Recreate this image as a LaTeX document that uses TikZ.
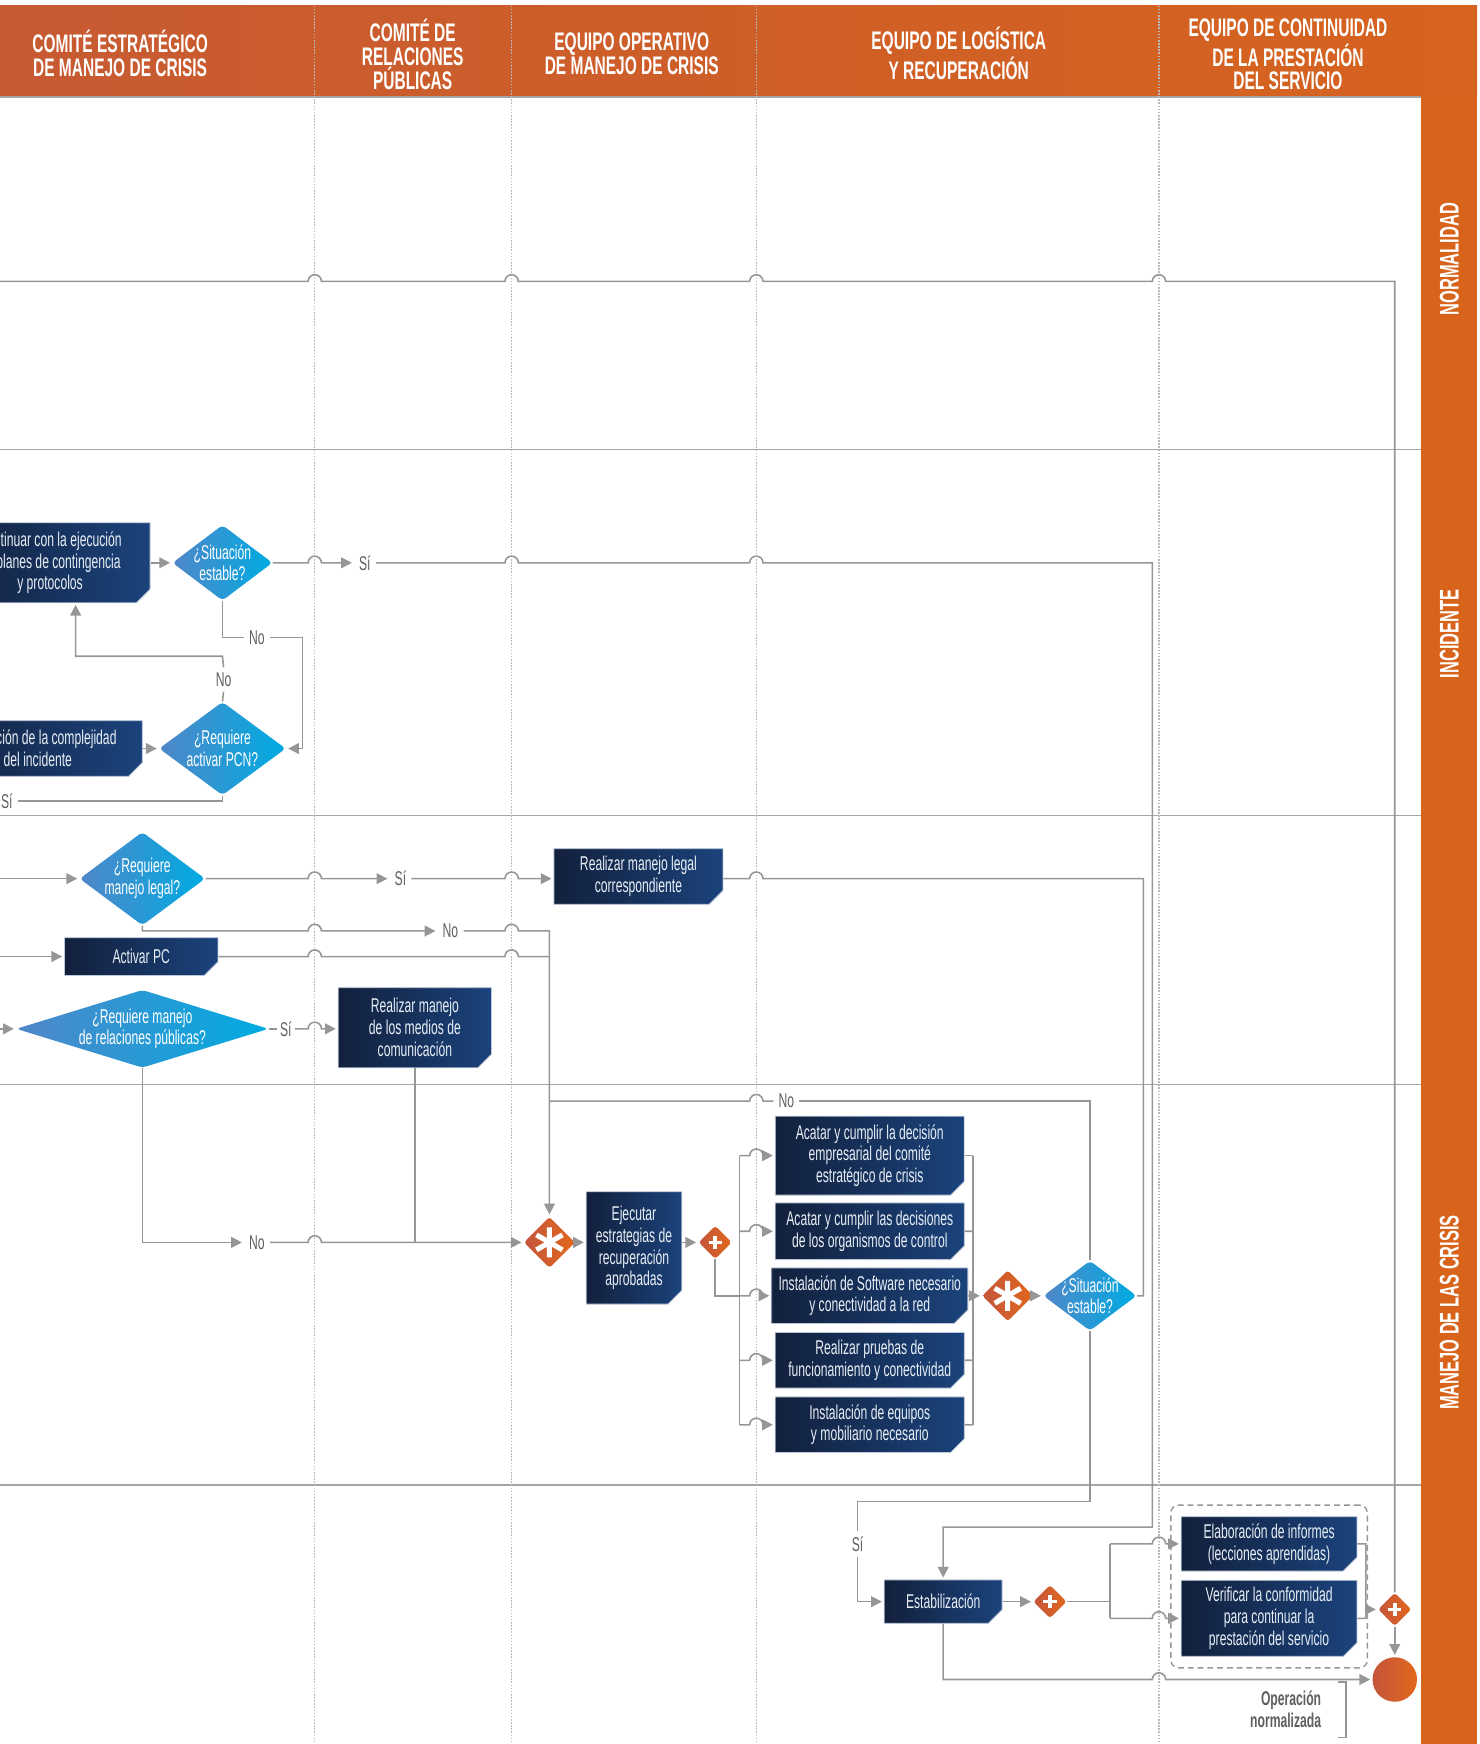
\documentclass[tikz,border=0pt]{standalone}
\usepackage{fontspec}
\setmainfont{Liberation Sans}[FakeStretch=0.61]
\usepackage{tikz}
\usetikzlibrary{arrows.meta, positioning, fit, shapes.geometric, shapes.misc}
\definecolor{hdrL}{RGB}{199,90,50}
\definecolor{hdrR}{RGB}{214,99,30}
\definecolor{sideor}{RGB}{216,100,28}
\definecolor{boxL}{RGB}{18,32,60}
\definecolor{boxR}{RGB}{27,67,124}
\definecolor{decL}{RGB}{80,135,200}
\definecolor{decR}{RGB}{0,171,226}
\definecolor{gwL}{RGB}{196,85,60}
\definecolor{gwR}{RGB}{226,103,28}
\definecolor{lineg}{RGB}{150,150,150}
\definecolor{laneg}{RGB}{165,165,165}
\definecolor{dotg}{RGB}{185,185,185}
\definecolor{labg}{RGB}{95,95,95}
\definecolor{boxtxt}{RGB}{232,238,245}
\newcommand*{\hopr}[2]{-- ({#1-6},#2) arc[start angle=180,end angle=0,radius=0.12cm]}
\newcommand*{\hopl}[2]{-- ({#1+6},#2) arc[start angle=0,end angle=180,radius=0.12cm]}
\newcommand*{\boxfont}{\fontsize{10.2}{11.2}\selectfont}

\begin{document}
\begin{tikzpicture}[
        x=0.02cm, y=-0.02cm, >={Triangle[length=5.5pt,width=5.5pt]},
        flow/.style={draw=lineg, line width=0.8pt},
        arr/.style={flow, ->, shorten >=1pt},
        task/.style={chamfered rectangle, chamfered rectangle corners=south east,
          chamfered rectangle xsep=3.5pt, chamfered rectangle ysep=3.5pt,
          left color=boxL, right color=boxR, draw=white!70!boxR, line width=0.4pt,
          text=boxtxt, font=\boxfont, align=center, inner sep=0pt},
        decision/.style={diamond, left color=decL, right color=decR, inner sep=0pt,
          rounded corners=2pt, label={[text=white, font=\boxfont, align=center]center:#1}},
        gw/.style={diamond, left color=gwL, right color=gwR, inner sep=0pt,
          minimum size=#1, rounded corners=1.5pt},
        cgw/.style={gw=0.92cm, path picture={\draw[white, line width=2.6pt,
          shift={(path picture bounding box.center)}] (90:0.27cm) -- (270:0.27cm)
          (30:0.27cm) -- (210:0.27cm) (150:0.27cm) -- (330:0.27cm);}},
        pgw/.style={gw=0.6cm, path picture={\draw[white, line width=1.8pt,
          shift={(path picture bounding box.center)}] (-0.12cm,0) -- (0.12cm,0)
          (0,-0.12cm) -- (0,0.12cm);}},
        lbl/.style={text=labg, font=\boxfont, inner sep=2.5pt},
        hdr/.style={text=white, font=\fontsize{13}{12.2}\selectfont\bfseries, align=center},
        lanelab/.style={text=white, font=\fontsize{13.8}{14}\selectfont\bfseries, rotate=90},
        ]

        \useasboundingbox (0,0) rectangle (1330,1568);
        \clip (0,0) rectangle (1330,1568);

        \shade[left color=hdrL, right color=hdrR] (0,5) rectangle (1328,87);
        \fill[sideor] (1278,87) rectangle (1328,1568);
        \draw[laneg, line width=1pt] (0,87) -- (1278,87);
        \foreach \y in {404,733,975,1335}
          \draw[laneg, line width=0.8pt] (0,\y) -- (1278,\y);
        \foreach \x in {283,460,680,1042}
          \draw[dotg, line width=0.6pt, dash pattern=on 0.8pt off 0.8pt] (\x,5) -- (\x,1568);

        \node[hdr] (h1) at (108,48) {COMITÉ ESTRATÉGICO\\DE MANEJO DE CRISIS};
        \node[hdr] (h2) at (371,49) {COMITÉ DE\\RELACIONES\\PÚBLICAS};
        \node[hdr] (h3) at (568,48) {EQUIPO OPERATIVO\\DE MANEJO DE CRISIS};
        \node[hdr] (h4) at (862,48) {EQUIPO DE LOGÍSTICA\\Y RECUPERACIÓN};
        \node[hdr] (h5) at (1158,49) {EQUIPO DE CONTINUIDAD\\DE LA PRESTACIÓN\\DEL SERVICIO};
        \node[lanelab] (l1) at (1303,233) {NORMALIDAD};
        \node[lanelab] (l2) at (1303,570) {INCIDENTE};
        \node[lanelab] (l3) at (1303,1180) {MANEJO DE LAS CRISIS};

        \coordinate (intop) at (0,253);
        \coordinate (inlegal) at (0,790);
        \coordinate (inpc) at (0,860);
        \coordinate (inrrpp) at (0,925);

        \node[task, minimum width=3.6cm, minimum height=1.44cm] (cont) at (45,506)
          {Continuar con la ejecución\\de planes de contingencia\\y protocolos};
        \node[decision={¿Situación\\estable?}, minimum width=1.8cm, minimum height=1.36cm] (sit1) at (200,506) {};
        \node[task, minimum width=3.76cm, minimum height=1cm] (eval) at (34,673)
          {Evaluación de la complejidad\\del incidente};
        \node[decision={¿Requiere\\activar PCN?}, minimum width=2.28cm, minimum height=1.68cm] (pcn) at (200,673) {};

        \node[decision={¿Requiere\\manejo legal?}, minimum width=2.26cm, minimum height=1.68cm] (legalq) at (128,790) {};
        \node[task, minimum width=3.04cm, minimum height=1cm] (legal) at (574,788)
          {Realizar manejo legal\\correspondiente};
        \node[task, minimum width=2.76cm, minimum height=0.68cm] (actpc) at (127,860) {Activar PC};
        \node[decision={¿Requiere manejo\\de relaciones públicas?}, minimum width=4.54cm, minimum height=1.4cm] (rrpp) at (128,925) {};
        \node[task, minimum width=2.76cm, minimum height=1.44cm] (medios) at (373,924)
          {Realizar manejo\\de los medios de\\comunicación};

        \node[cgw] (ast1) at (494,1117) {};
        \node[task, minimum width=1.72cm, minimum height=2.02cm] (ejec) at (570,1122)
          {Ejecutar\\estrategias de\\recuperación\\aprobadas};
        \node[pgw] (plus1) at (643,1117) {};

        \node[task, minimum width=3.4cm, minimum height=1.42cm] (t1) at (782,1039)
          {Acatar y cumplir la decisión\\empresarial del comité\\estratégico de crisis};
        \node[task, minimum width=3.4cm, minimum height=1.02cm, on grid, below=1.36cm of t1] (t2)
          {Acatar y cumplir las decisiones\\de los organismos de control};
        \node[task, minimum width=3.4cm, minimum height=1cm, on grid, below=1.16cm of t2] (t3)
          {Instalación de Software necesario\\y conectividad a la red};
        \node[task, minimum width=3.4cm, minimum height=1cm, on grid, below=1.16cm of t3] (t4)
          {Realizar pruebas de\\funcionamiento y conectividad};
        \node[task, minimum width=3.4cm, minimum height=1cm, on grid, below=1.16cm of t4] (t5)
          {Instalación de equipos\\y mobiliario necesario};
        \node[cgw] (ast2) at (906,1165) {};
        \node[decision={¿Situación\\estable?}, minimum width=1.68cm, minimum height=1.26cm] (sit2) at (980,1165) {};

        \node[task, minimum width=2.12cm, minimum height=0.78cm] (estab) at (848,1440) {Estabilización};
        \node[pgw] (plus2) at (944,1440) {};
        \node[task, minimum width=3.16cm, minimum height=0.96cm] (inf) at (1141,1388)
          {Elaboración de informes\\(lecciones aprendidas)};
        \node[task, minimum width=3.16cm, minimum height=1.2cm, on grid, below=1.34cm of inf] (ver)
          {Verificar la conformidad\\para continuar la\\prestación del servicio};
        \node[draw=lineg, line width=0.7pt, dash pattern=on 3pt off 2pt, rounded corners=4pt,
          inner xsep=0.18cm, inner ysep=0.2cm, fit=(inf)(ver)] (grp) {};
        \node[pgw] (plus3) at (1254,1447) {};
        \node[circle, left color=gwL, right color=gwR, inner sep=0pt, minimum size=0.8cm] (endc) at (1254,1510) {};
        \node[text=labg, font=\boxfont\bfseries, align=right, anchor=east] (oplab) at (1194,1537)
          {Operación\\normalizada};
        \draw[lineg, line width=0.8pt] (1203,1512) -- (1210,1512) -- (1210,1562) -- (1203,1562);

        \node[lbl] (si1) at (328,506) {Sí};
        \node[lbl] (no1) at (231,573) {No};
        \node[lbl] (no2) at (201,611) {No};
        \node[lbl, anchor=east] (si2) at (16,720) {Sí};
        \node[lbl] (si3) at (360,790) {Sí};
        \node[lbl] (no3) at (405,837) {No};
        \node[lbl, inner sep=1.5pt] (si4) at (257,925) {Sí};
        \node[lbl] (no4) at (231,1117) {No};
        \node[lbl] (no5) at (707,990) {No};
        \node[lbl] (si5) at (771,1388) {Sí};

        \draw[flow] (intop) \hopr{283}{253} \hopr{460}{253} \hopr{680}{253} \hopr{1042}{253}
          -- (1254,253) -- (plus3.north);

        \draw[arr] (cont.east) -- (sit1.west);
        \draw[arr] (sit1.east) \hopr{283}{506} -- (si1.west);
        \draw[arr] (si1.east) \hopr{460}{506} \hopr{680}{506} -- (1036,506) -- (1036,1373)
          -- (848,1373) -- (estab.north);
        \draw[flow] (sit1.south) |- (no1.west);
        \draw[arr] (no1.east) -- (272,573) -- (272,673) -- (pcn.east);
        \draw[arr] (eval.east) -- (pcn.west);
        \draw[flow] (pcn.north) -- (no2.south);
        \draw[arr] (no2.north) -- (200,590) -- (68,590) -- (68,542);
        \draw[flow] (pcn.south) |- (si2.east);

        \draw[arr] (inlegal) -- (legalq.west);
        \draw[arr] (legalq.east) \hopr{283}{790} -- (si3.west);
        \draw[arr] (si3.east) \hopr{460}{790} -- (legal.west |- si3);
        \draw[arr] (legalq.south) -- (128,837) \hopr{283}{837} -- (no3.west);
        \draw[arr] (no3.east) \hopr{460}{837} -- (494,837) -- (ast1.north);
        \draw[arr] (inpc) -- (actpc.west);
        \draw[flow] (actpc.east) \hopr{283}{860} \hopr{460}{860} -- (494,860);
        \draw[arr] (inrrpp) -- (rrpp.west);
        \draw[flow] (rrpp.east) -- (si4.west);
        \draw[arr] (si4.east) \hopr{283}{925} -- (medios.west |- si4);
        \draw[arr] (rrpp.south) |- (no4.west);
        \draw[arr] (no4.east) \hopr{283}{1117} -- (ast1.west);
        \draw[flow] (medios.south) -- (373,1117);
        \draw[flow] (sit2.north) |- (no5.east);
        \draw[flow] (no5.west) \hopl{680}{990} -- (494,990);

        \draw[arr] (ast1.east) -- (ast1.east -| ejec.west);
        \draw[arr] (ejec.east |- plus1.west) -- (plus1.west);
        \draw[flow] (plus1.south) |- (665,1165);
        \draw[flow] (665,1039) -- (665,1281);
        \foreach \t/\y in {t1/1039,t2/1107,t3/1165,t4/1223,t5/1281} {
          \draw[arr] (665,\y) \hopr{680}{\y} -- (\t.west);
          \draw[flow] (\t.east) -- (875,\y);
        }
        \draw[flow] (875,1039) -- (875,1281);
        \draw[arr] (875,1165) -- (ast2.west);
        \draw[arr] (ast2.east) -- (sit2.west);
        \draw[flow] (legal.east |- si3) \hopr{680}{790} -- (1028,790) -- (1028,1165) -- (sit2.east);
        \draw[flow] (sit2.south) -- (980,1350) -- (771,1350) -- (si5.north);
        \draw[arr] (si5.south) |- (estab.west);

        \draw[arr] (estab.east) -- (plus2.west);
        \draw[flow] (plus2.east) -- (998,1440);
        \draw[flow] (998,1388) -- (998,1455);
        \draw[arr] (998,1388) \hopr{1042}{1388} -- (inf.west);
        \draw[arr] (998,1455) \hopr{1042}{1455} -- (ver.west);
        \draw[flow] (inf.east) -- (1228,1388) -- (1228,1455) -- (ver.east);
        \draw[arr] (1228,1447) -- (plus3.west);
        \draw[arr] (plus3.south) -- (endc.north);
        \draw[arr] (estab.south) -- (848,1510) \hopr{1042}{1510} -- (endc.west);
      \end{tikzpicture}
\end{document}
